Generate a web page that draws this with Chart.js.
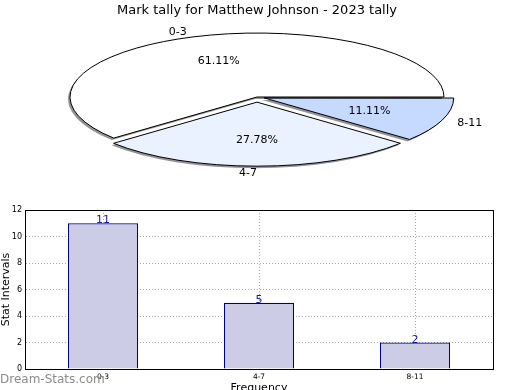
<!DOCTYPE html>
<html>
<head>
<meta charset="utf-8">
<script src="https://cdn.jsdelivr.net/npm/chart.js@4.4.0/dist/chart.umd.min.js"></script>
<style>
  html, body { margin: 0; padding: 0; width: 520px; height: 390px; overflow: hidden; background: #fff; }
  #barChart { position: absolute; left: 0; top: 0; z-index: 1; }
  #pieChart { position: absolute; left: 0; top: 0; z-index: 2; pointer-events: none; }
</style>
</head>
<body>
<canvas id="barChart" width="520" height="395"></canvas>
<canvas id="pieChart" width="514" height="560"></canvas>
<script>
"use strict";

const chartTitle = "Mark tally for Matthew Johnson - 2023 tally";
const categories = ["0-3", "4-7", "8-11"];
const tallies = [11, 5, 2];
const yTicks = [0, 2, 4, 6, 8, 10, 12];

const sliceColors = ["#ffffff", "#eaf1ff", "#c6daff"];
const sliceOffsets = [0, 60, 30];

Chart.defaults.font.family = "'DejaVu Sans', sans-serif";
Chart.defaults.color = "#000";

// pie is drawn as a tilted ellipse
const squash = 0.342;
const pieCenterY = 97;

const ellipsePie = {
  id: "ellipsePie",
  beforeDatasetDraw(chart) {
    const ctx = chart.ctx;
    const cy = chart.getDatasetMeta(0).data[0].y;
    ctx.save();
    ctx.translate(0, pieCenterY);
    ctx.scale(1, squash);
    ctx.translate(0, -cy);
    ctx.shadowColor = "rgba(0, 0, 0, 0.42)";
    ctx.shadowOffsetX = -2;
    ctx.shadowOffsetY = 2;
    // stroke outlines in page pixels so the edge keeps one width, no shadow
    ctx.stroke = function () {
      this.save();
      this.setTransform(1, 0, 0, 1, 0, 0);
      this.shadowColor = "rgba(0, 0, 0, 0)";
      CanvasRenderingContext2D.prototype.stroke.call(this);
      this.restore();
    };
  },
  afterDatasetDraw(chart) {
    delete chart.ctx.stroke;
    chart.ctx.restore();
  },
  afterDatasetsDraw(chart) {
    const ctx = chart.ctx;
    const meta = chart.getDatasetMeta(0);
    const values = chart.data.datasets[0].data;
    const total = values.reduce((a, b) => a + b, 0);
    ctx.save();
    ctx.font = "11px 'DejaVu Sans'";
    ctx.fillStyle = "#000";
    ctx.textBaseline = "middle";
    meta.data.forEach((arc, i) => {
      const mid = (arc.startAngle + arc.endAngle) / 2;
      const shift = (arc.options.offset || 0) / 4;
      const at = f => [
        arc.x + Math.cos(mid) * (arc.outerRadius * f + shift),
        pieCenterY + squash * Math.sin(mid) * (arc.outerRadius * f + shift)
      ];
      let [x, y] = at(0.6);
      ctx.textAlign = "center";
      ctx.fillText((values[i] / total * 100).toFixed(2) + "%", x, y);
      [x, y] = at(1.1);
      ctx.textAlign = Math.cos(mid) > 1e-6 ? "left" : "right";
      ctx.fillText(chart.data.labels[i], x, y + 1);
    });
    ctx.restore();
  }
};

// slices run counter-clockwise from 3 o'clock, so feed them reversed
const order = categories.map((c, i) => i).reverse();

new Chart(document.getElementById("pieChart"), {
  type: "pie",
  data: {
    labels: order.map(i => categories[i]),
    datasets: [{
      data: order.map(i => tallies[i]),
      backgroundColor: order.map(i => sliceColors[i]),
      offset: order.map(i => sliceOffsets[i]),
      borderColor: "#000",
      borderWidth: 1,
      clip: false
    }]
  },
  options: {
    responsive: false,
    animation: false,
    rotation: 90,
    radius: 187,
    layout: { padding: 0 },
    plugins: {
      legend: { display: false },
      tooltip: { enabled: false },
      title: {
        display: true,
        text: chartTitle,
        font: { size: 13, weight: "normal" },
        color: "#000",
        padding: { top: 3, bottom: 0 }
      }
    }
  },
  plugins: [ellipsePie]
});

const barExtras = {
  id: "barExtras",
  afterDatasetsDraw(chart) {
    const ctx = chart.ctx;
    const a = chart.chartArea;
    ctx.save();
    ctx.strokeStyle = "#000";
    ctx.lineWidth = 1;
    ctx.strokeRect(a.left + 0.5, a.top + 0.5, a.right - a.left, a.bottom - a.top);
    ctx.font = "11px 'DejaVu Sans'";
    ctx.fillStyle = "#1a1a9c";
    ctx.textAlign = "center";
    ctx.textBaseline = "alphabetic";
    chart.getDatasetMeta(0).data.forEach((bar, i) => {
      ctx.fillText(String(chart.data.datasets[0].data[i]), bar.x, bar.y);
    });
    ctx.restore();
  },
  afterDraw(chart) {
    const ctx = chart.ctx;
    ctx.save();
    ctx.font = "12px 'DejaVu Sans'";
    ctx.fillStyle = "#8c8c8c";
    ctx.textAlign = "left";
    ctx.textBaseline = "middle";
    ctx.fillText("Dream-Stats.com", 0, 380);
    ctx.restore();
  }
};

new Chart(document.getElementById("barChart"), {
  type: "bar",
  data: {
    labels: categories,
    datasets: [{
      data: tallies,
      backgroundColor: "#ccccE6",
      borderColor: "#000080",
      borderWidth: 1.3,
      barPercentage: 0.45,
      categoryPercentage: 1
    }]
  },
  options: {
    responsive: false,
    animation: false,
    layout: { padding: { left: 0, top: 210, right: 27, bottom: 0 } },
    plugins: { legend: { display: false }, tooltip: { enabled: false } },
    scales: {
      x: {
        afterFit: s => { s.height = 26; },
        grid: { offset: false, color: "#aaaaaa", drawTicks: false },
        border: { color: "#000", dash: [1, 2] },
        ticks: { font: { size: 7.5 }, padding: 4, color: "#000" },
        title: { display: true, text: "Frequency", font: { size: 11 }, padding: 0, color: "#000" }
      },
      y: {
        min: 0,
        max: 12,
        afterFit: s => { s.width = 25; },
        afterBuildTicks: s => { s.ticks = yTicks.map(v => ({ value: v })); },
        grid: { color: "#aaaaaa", drawTicks: false },
        border: { color: "#000", dash: [1, 2] },
        ticks: { font: { size: 8 }, padding: 3, color: "#000" },
        title: { display: true, text: "Stat Intervals", font: { size: 11 }, padding: 0, color: "#000" }
      }
    }
  },
  plugins: [barExtras]
});
</script>
</body>
</html>
